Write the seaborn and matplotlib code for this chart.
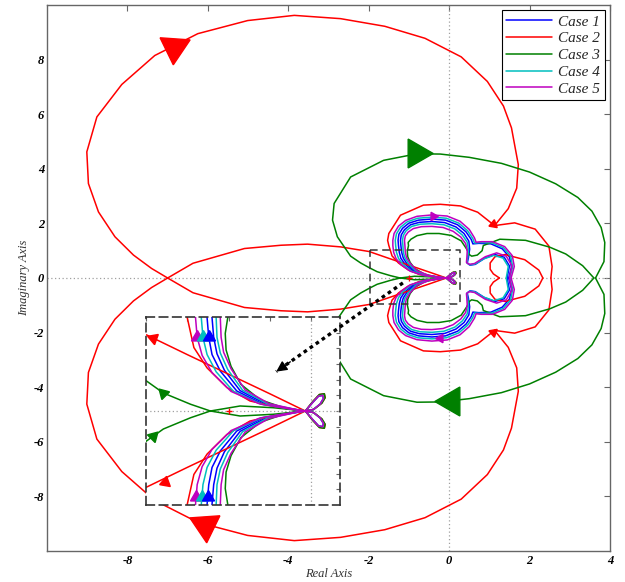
import numpy as np
import pandas as pd
import matplotlib
matplotlib.use("Agg")
import matplotlib.pyplot as plt
import seaborn as sns
from matplotlib.lines import Line2D
from matplotlib.font_manager import FontProperties

# ---------------- data (upper half, omega > 0; the plot adds the conjugate) -------------
cases = ["Case 1", "Case 2", "Case 3", "Case 4", "Case 5"]
case_colors = ["#0000ff", "#ff0000", "#008000", "#00bfbf", "#bf00bf"]

# Case 2 (red)
red_loop_x = [-7.00, -7.40, -7.85, -8.31, -8.72, -8.97, -9.01, -8.76, -8.14, -7.32, -6.25, -5.01,
              -3.85, -2.70, -1.60, -0.60, 0.30, 0.95, 1.35, 1.55, 1.72, 1.68, 1.47, 1.13]
red_loop_y = [0.00, 0.35, 0.84, 1.51, 2.42, 3.46, 4.62, 5.90, 7.09, 8.15, 8.95, 9.43,
              9.62, 9.50, 9.22, 8.78, 8.10, 7.20, 6.30, 5.50, 4.15, 3.29, 2.54, 1.92]
red_line_x = [-7.00, -6.37, -5.09, -4.18, -3.52, -2.70, -1.99, -1.50, -1.00, -0.50, -0.07]
red_line_y = [0.00, 0.54, 1.08, 1.20, 1.24, 1.14, 0.97, 0.72, 0.47, 0.22, 0.00]
red_arc_x = [1.13, 0.71, 0.28, -0.22, -0.64, -1.21, -1.50, -1.53, -1.50, -1.42, -1.26, -1.02, -0.74, -0.375, -0.07]
red_arc_y = [1.92, 2.41, 2.64, 2.70, 2.67, 2.30, 1.63, 1.38, 1.19, 0.81, 0.55, 0.30, 0.128, 0.042, 0.00]
red_right_x = [1.13, 1.63, 2.14, 2.48, 2.56, 2.53]
red_right_y = [1.92, 2.02, 1.79, 1.17, 0.42, 0.00]
red_small_x = [1.25, 1.10, 1.02, 1.02, 1.14, 1.39, 1.88, 2.23, 2.33]
red_small_y = [0.00, 0.15, 0.32, 0.55, 0.78, 0.86, 0.67, 0.29, 0.00]

# Case 3 (green)
green_loop_x = [-1.22, -1.46, -1.79, -1.99, -2.20, -2.45, -2.78, -2.90, -2.86, -2.45, -1.63, -0.80,
                -0.22, 0.50, 1.30, 2.00, 2.65, 3.20, 3.55, 3.78, 3.87, 3.85, 3.64]
green_loop_y = [0.00, 0.086, 0.23, 0.38, 0.55, 0.80, 1.51, 2.12, 2.73, 3.70, 4.31, 4.55,
                4.54, 4.42, 4.20, 3.88, 3.45, 2.95, 2.45, 1.85, 1.30, 0.60, 0.00]
green_tail_x = [-1.22, -0.86, -0.46, -0.07]
green_tail_y = [0.00, 0.064, 0.042, 0.00]
green_lobe_x = [-0.07, -0.30, -0.62, -0.85, -0.97, -1.03, -1.04, -1.01, -1.02, -0.95, -0.80, -0.55, -0.25,
                0.05, 0.30, 0.44, 0.50, 0.56, 0.70, 0.82, 0.85, 1.26, 1.90, 2.50, 2.90, 3.32, 3.60]
green_lobe_y = [0.00, 0.03, 0.145, 0.34, 0.57, 0.78, 0.99, 1.19, 1.30, 1.42, 1.55, 1.63, 1.63,
                1.56, 1.36, 1.05, 0.86, 0.80, 0.84, 1.00, 1.19, 1.42, 1.38, 1.13, 0.88, 0.45, 0.00]

# Case 5 (magenta) outer / inner pass
mag_out_x = [-0.07, -0.23, -0.62, -0.97, -1.20, -1.32, -1.38, -1.40, -1.40, -1.37, -1.26, -1.08, -0.80,
             -0.43, -0.05, 0.27, 0.50, 0.63, 0.67, 0.80, 1.08, 1.38, 1.57, 1.62, 1.54]
mag_out_y = [0.00, 0.021, 0.089, 0.25, 0.49, 0.71, 0.94, 1.19, 1.38, 1.63, 1.90, 2.11, 2.26,
             2.31, 2.27, 2.08, 1.78, 1.47, 1.31, 1.33, 1.33, 1.15, 0.82, 0.42, 0.00]
mag_in_x = [-0.07, -0.20, -0.51, -0.80, -0.97, -1.06, -1.09, -1.10, -1.11, -1.09, -1.02, -0.89, -0.69, -0.43,
            -0.15, 0.10, 0.29, 0.41, 0.45, 0.44, 0.43, 0.50, 0.63, 0.90, 1.18, 1.42, 1.56, 1.50]
mag_in_y = [0.00, 0.023, 0.094, 0.27, 0.54, 0.75, 0.94, 1.19, 1.38, 1.54, 1.68, 1.81, 1.88, 1.89,
            1.85, 1.71, 1.50, 1.26, 1.00, 0.73, 0.57, 0.50, 0.53, 0.78, 0.92, 0.80, 0.45, 0.00]

# Case 4 (cyan)
cyan_out_x = [-0.07, -0.22, -0.60, -0.94, -1.15, -1.26, -1.31, -1.33, -1.34, -1.31, -1.21, -1.04, -0.78,
              -0.43, -0.07, 0.24, 0.46, 0.59, 0.63, 0.77, 1.06, 1.35, 1.53, 1.58, 1.51]
cyan_out_y = [0.00, 0.021, 0.087, 0.25, 0.50, 0.72, 0.94, 1.19, 1.38, 1.62, 1.86, 2.06, 2.19,
              2.23, 2.19, 2.01, 1.73, 1.44, 1.28, 1.30, 1.29, 1.11, 0.80, 0.41, 0.00]
cyan_in_x = [-0.07, -0.20, -0.53, -0.83, -1.01, -1.10, -1.14, -1.15, -1.16, -1.14, -1.07, -0.93, -0.72, -0.43,
             -0.13, 0.14, 0.33, 0.45, 0.48, 0.46, 0.44, 0.51, 0.64, 0.86, 1.11, 1.34, 1.47, 1.42]
cyan_in_y = [0.00, 0.022, 0.092, 0.265, 0.53, 0.74, 0.94, 1.19, 1.38, 1.56, 1.73, 1.89, 1.97, 1.99,
             1.95, 1.80, 1.57, 1.31, 1.03, 0.74, 0.56, 0.48, 0.51, 0.70, 0.83, 0.73, 0.42, 0.00]

# Case 1 (blue)
blue_out_x = [-0.07, -0.21, -0.58, -0.90, -1.10, -1.20, -1.24, -1.26, -1.27, -1.25, -1.16, -1.00, -0.76,
              -0.43, -0.09, 0.21, 0.42, 0.55, 0.59, 0.74, 1.04, 1.32, 1.50, 1.55, 1.48]
blue_out_y = [0.00, 0.021, 0.085, 0.255, 0.51, 0.72, 0.94, 1.19, 1.38, 1.60, 1.82, 2.01, 2.12,
              2.16, 2.12, 1.95, 1.69, 1.41, 1.25, 1.27, 1.25, 1.07, 0.77, 0.40, 0.00]
blue_in_x = [-0.07, -0.21, -0.55, -0.86, -1.05, -1.14, -1.18, -1.20, -1.21, -1.19, -1.11, -0.96, -0.74, -0.43,
             -0.11, 0.17, 0.37, 0.49, 0.51, 0.48, 0.45, 0.52, 0.65, 0.88, 1.14, 1.37, 1.50, 1.44]
blue_in_y = [0.00, 0.022, 0.089, 0.26, 0.52, 0.73, 0.94, 1.19, 1.38, 1.58, 1.77, 1.95, 2.04, 2.07,
             2.03, 1.87, 1.63, 1.35, 1.05, 0.75, 0.55, 0.47, 0.50, 0.72, 0.86, 0.76, 0.44, 0.00]

# small leaves next to the origin
petal_big_x = [-0.07, 0.02, 0.10, 0.16, 0.17, 0.13, 0.03, -0.07]
petal_big_y = [0.00, 0.12, 0.21, 0.22, 0.17, 0.10, 0.02, 0.00]
petal_small_x = [-0.07, 0.02, 0.09, 0.14, 0.15, 0.11, 0.03, -0.07]
petal_small_y = [0.00, 0.11, 0.19, 0.20, 0.16, 0.09, 0.02, 0.00]

# direction arrows
main_arrow_case = ["Case 2", "Case 2", "Case 3", "Case 3", "Case 2", "Case 2", "Case 5", "Case 5"]
main_arrow_x = [-6.84, -6.07, -0.83, 0.05, 1.08, 1.08, -0.41, -0.22]
main_arrow_y = [8.47, -9.03, 4.57, -4.52, 1.97, -1.97, 2.28, -2.18]
main_arrow_rot = [176, 184, 270, 90, 110, 70, 270, 90]
main_arrow_size = [25, 25, 24, 24, 7, 7, 7, 7]

inset_arrow_case = ["Case 2", "Case 2", "Case 3", "Case 3", "Case 5", "Case 4", "Case 1", "Case 5", "Case 4", "Case 1"]
inset_arrow_x = [-1.91, -1.77, -1.79, -1.91, -1.38, -1.31, -1.24, -1.39, -1.325, -1.255]
inset_arrow_y = [0.93, -0.90, 0.23, -0.32, 0.94, 0.94, 0.94, -1.10, -1.10, -1.10]
inset_arrow_rot = [70, 110, 165, 195, 0, 0, 0, 0, 0, 0]
inset_arrow_size = [9, 9, 9, 9, 10, 10, 10, 10, 10, 10]

critical_x = [-1.0]
critical_y = [0.0]

zoom_box_x = [-1.96, 0.27, 0.27, -1.96, -1.96]
zoom_box_y = [1.03, 1.03, -0.95, -0.95, 1.03]
pointer_x = [-1.15, -4.30]
pointer_y = [-0.18, -3.43]

x_ticks = [-8, -6, -4, -2, 0, 2, 4]
y_ticks = [-8, -6, -4, -2, 0, 2, 4, 6, 8]

segments = [
    ("Case 1", blue_out_x, blue_out_y), ("Case 1", blue_in_x, blue_in_y), ("Case 1", petal_small_x, petal_small_y),
    ("Case 2", red_loop_x, red_loop_y), ("Case 2", red_line_x, red_line_y), ("Case 2", red_arc_x, red_arc_y),
    ("Case 2", red_right_x, red_right_y), ("Case 2", red_small_x, red_small_y), ("Case 2", petal_big_x, petal_big_y),
    ("Case 3", green_loop_x, green_loop_y), ("Case 3", green_tail_x, green_tail_y),
    ("Case 3", green_lobe_x, green_lobe_y), ("Case 3", petal_big_x, petal_big_y),
    ("Case 4", cyan_out_x, cyan_out_y), ("Case 4", cyan_in_x, cyan_in_y), ("Case 4", petal_small_x, petal_small_y),
    ("Case 5", mag_out_x, mag_out_y), ("Case 5", mag_in_x, mag_in_y), ("Case 5", petal_small_x, petal_small_y),
]

rows = []
for k, (case, xs, ys) in enumerate(segments):
    for sgn, tag in ((1, "p"), (-1, "n")):
        for x, y in zip(xs, ys):
            rows.append({"case": case, "seg": f"{k}{tag}", "re": x, "im": sgn * y})
df = pd.DataFrame(rows)
palette = dict(zip(cases, case_colors))

# ---------------- style ----------------
sns.set_style("white")
plt.rcParams["font.family"] = ["Liberation Serif", "DejaVu Serif"]
plt.rcParams["axes.unicode_minus"] = False

fig = plt.figure(figsize=(6.25, 5.82), dpi=100)
main_rect = [47 / 625, 1 - 551 / 582, 563 / 625, 546 / 582]
ax = fig.add_axes(main_rect)

def draw_curves(a):
    sns.lineplot(data=df, x="re", y="im", hue="case", units="seg", estimator=None, sort=False,
                 hue_order=cases, palette=palette, linewidth=1.1, legend=False, ax=a, zorder=2)
    a.axhline(0, color="#a0a0a0", ls=(0, (1, 2)), lw=0.9, zorder=1)
    a.axvline(0, color="#a0a0a0", ls=(0, (1, 2)), lw=0.9, zorder=1)
    a.plot(critical_x, critical_y, marker="+", color="#ff0000", ms=5, mew=1.0, ls="none", zorder=3)

draw_curves(ax)
for c, x, y, r, s in zip(main_arrow_case, main_arrow_x, main_arrow_y, main_arrow_rot, main_arrow_size):
    ax.plot([x], [y], marker=(3, 0, r), ms=s, color=palette[c], mec=palette[c], ls="none", zorder=4)

ax.plot(zoom_box_x, zoom_box_y, color="#333333", lw=1.1, ls=(0, (5, 3)), zorder=3)

ax.set_xlim(-10, 4)
ax.set_ylim(-10, 10)
ax.set_xticks(x_ticks)
ax.set_yticks(y_ticks)
ax.tick_params(axis="both", direction="in", length=4, width=0.8, color="#666666",
               top=True, right=True, labelsize=9, labelcolor="black")
ax.tick_params(axis="x", pad=3)
ax.tick_params(axis="y", pad=2)
for lbl in ax.get_xticklabels() + ax.get_yticklabels():
    lbl.set_fontweight("bold")
    lbl.set_fontstyle("italic")
for sp in ax.spines.values():
    sp.set_color("#666666")
    sp.set_linewidth(1.0)
ax.set_xlabel("Real Axis", fontsize=9, fontstyle="italic", color="#333333", labelpad=0.5)
ax.set_ylabel("Imaginary Axis", fontsize=9, fontstyle="italic", color="#333333", labelpad=3)

handles = [Line2D([0], [0], color=c, lw=1.1) for c in case_colors]
leg = ax.legend(handles, cases, loc="upper right",
                prop=FontProperties(family="Liberation Serif", style="italic", size=11),
                frameon=True, fancybox=False, edgecolor="black", framealpha=1,
                borderaxespad=0.35, handlelength=3.0, labelspacing=0.2, borderpad=0.3,
                handletextpad=0.4)
leg.get_frame().set_linewidth(0.8)

# ---------------- inset ----------------
iax = fig.add_axes([146 / 625, 1 - 505 / 582, 194 / 625, 188 / 582])
iax.set_facecolor("white")
draw_curves(iax)
for c, x, y, r, s in zip(inset_arrow_case, inset_arrow_x, inset_arrow_y, inset_arrow_rot, inset_arrow_size):
    iax.plot([x], [y], marker=(3, 0, r), ms=s, color=palette[c], mec=palette[c], ls="none", zorder=4)
iax.set_xlim(-2, 0.35)
iax.set_ylim(-1.2, 1.2)
iax.set_xticks([-2, -1.5, -1, -0.5, 0])
iax.set_yticks([-1, -0.8, -0.6, -0.4, -0.2, 0, 0.2, 0.4, 0.6, 0.8, 1])
iax.tick_params(axis="both", direction="in", length=3, width=0.8, color="#666666",
                top=True, right=True, labelbottom=False, labelleft=False)
iax.set_xlabel("")
iax.set_ylabel("")
for sp in iax.spines.values():
    sp.set_linestyle((0, (5, 3)))
    sp.set_color("#333333")
    sp.set_linewidth(1.2)

# ---------------- pointer drawn above the inset (transparent overlay with main limits) ------
oax = fig.add_axes(main_rect, facecolor="none")
oax.set_xlim(-10, 4)
oax.set_ylim(-10, 10)
oax.axis("off")
oax.plot(pointer_x, pointer_y, color="black", lw=2.4, ls=(0, (1.1, 1.1)), zorder=3,
         solid_capstyle="butt")
oax.annotate("", xy=(pointer_x[1], pointer_y[1]), xytext=(pointer_x[1] + 0.35, pointer_y[1] + 0.36),
             arrowprops=dict(arrowstyle="-|>", color="black", lw=1.0, mutation_scale=16,
                             shrinkA=0, shrinkB=0), zorder=4)

fig.savefig("out.png", dpi=100)
